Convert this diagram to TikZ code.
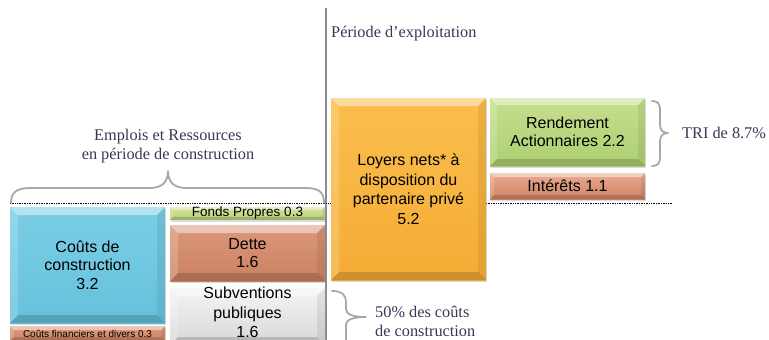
\documentclass[tikz,border=0pt]{standalone}
\usepackage{fontspec}
\setmainfont{Liberation Serif}
\newfontfamily\boxfont{Liberation Sans}
\usetikzlibrary{shadows}
\definecolor{txt}{HTML}{363A55}
\definecolor{bracegray}{HTML}{A8A8A8}
\definecolor{vline}{HTML}{8C8C8C}
\definecolor{blueT}{HTML}{7ACEE5}\definecolor{blueB}{HTML}{66C1DC}
\definecolor{cfT}{HTML}{DE9A7E}\definecolor{cfB}{HTML}{CC8363}
\definecolor{fpT}{HTML}{D2E49C}\definecolor{fpB}{HTML}{B6D27A}
\definecolor{deT}{HTML}{DB9779}\definecolor{deB}{HTML}{CB8263}
\definecolor{suT}{HTML}{F4F4F4}\definecolor{suB}{HTML}{D8D8D8}
\definecolor{loT}{HTML}{FABE4C}\definecolor{loB}{HTML}{F5AC36}
\definecolor{reT}{HTML}{C6DF8E}\definecolor{reB}{HTML}{AECF72}
\definecolor{inT}{HTML}{EBAA90}\definecolor{inB}{HTML}{CC8466}
\newcommand\bevelfaces[1]{%
  \path (path picture bounding box.north west) coordinate (bNW)
        (path picture bounding box.north east) coordinate (bNE)
        (path picture bounding box.south west) coordinate (bSW)
        (path picture bounding box.south east) coordinate (bSE);
  \fill[white,opacity=.45] (bNW) -- (bNE) -- ([xshift=-#1pt,yshift=-#1pt]bNE) -- ([xshift=#1pt,yshift=-#1pt]bNW) -- cycle;
  \fill[black,opacity=.16] (bSW) -- (bSE) -- ([xshift=-#1pt,yshift=#1pt]bSE) -- ([xshift=#1pt,yshift=#1pt]bSW) -- cycle;
  \fill[white,opacity=.18] (bNW) -- ([xshift=#1pt,yshift=-#1pt]bNW) -- ([xshift=#1pt,yshift=#1pt]bSW) -- (bSW) -- cycle;
  \fill[black,opacity=.07] (bNE) -- ([xshift=-#1pt,yshift=-#1pt]bNE) -- ([xshift=-#1pt,yshift=#1pt]bSE) -- (bSE) -- cycle;
}
\tikzset{
  box/.style n args={3}{rectangle, inner sep=0pt, draw=none,
    top color=#1, bottom color=#2,
    drop shadow={opacity=.28, shadow xshift=.8pt, shadow yshift=-1.8pt},
    path picture={\bevelfaces{#3}},
    font=\boxfont\fontsize{16}{18.5}\selectfont, text=black, align=center},
  serif/.style={font=\fontsize{16.3}{19}\selectfont, text=txt, inner sep=0pt, align=left},
  bracel/.style={draw=bracegray, line width=1.8pt, line cap=round, line join=round},
}
\begin{document}
\begin{tikzpicture}[x=1pt,y=-1pt]
\clip (0,0) rectangle (769,340);
\fill[white] (0,0) rectangle (769,340);
% separators
\draw[vline, line width=1.2pt] (326,8) -- (326,340);
\draw[black, line width=.8pt, dash pattern=on .8pt off .9pt] (10,203) -- (672,203);
% titles
\node[serif, anchor=west] (per) at (331,34) {Période d’exploitation};
\node[serif, align=center] (emp) at (168,146.5) {Emplois et Ressources\\en période de construction};
\node[serif, anchor=west] (tri) at (682,133) {TRI de 8.7\%};
\node[serif, anchor=west] (cinq) at (375,321.5) {50\% des coûts\\de construction};
% braces
\draw[bracel] (11,203) .. controls (11,193) and (16,188) .. (30,188) -- (150,188)
  .. controls (162,188) and (168,182) .. (168,171)
  .. controls (168,182) and (174,188) .. (186,188) -- (306,188)
  .. controls (320,188) and (324,193) .. (324,203);
\draw[bracel] (652,101) .. controls (658,101) and (660,104) .. (660,110) -- (660,125)
  .. controls (660,130) and (663,133) .. (668,133)
  .. controls (663,133) and (660,136) .. (660,141) -- (660,157)
  .. controls (660,163) and (658,166) .. (652,166);
\draw[bracel] (332,291) .. controls (342,291) and (346,295) .. (346,302) -- (346,309)
  .. controls (346,314) and (352,317) .. (366,317)
  .. controls (352,317) and (346,320) .. (346,325) -- (346,345);
% construction boxes
\node[box={blueT}{blueB}{8}, minimum width=155pt, minimum height=116pt] (cc) at (87.5,265) {Coûts de\\construction\\3.2};
\node[box={cfT}{cfB}{4}, minimum width=155pt, minimum height=15pt,
      font=\boxfont\fontsize{10}{12}\selectfont] (cf) at (87.5,333.5) {Coûts financiers et divers 0.3};
\node[box={fpT}{fpB}{3}, minimum width=155pt, minimum height=11pt,
      font=\boxfont\fontsize{13.5}{13.5}\selectfont] (fp) at (247.5,213.5) {Fonds Propres 0.3};
\node[box={deT}{deB}{8}, minimum width=155pt, minimum height=56pt] (de) at (247.5,253) {Dette\\1.6};
\node[box={suT}{suB}{8}, minimum width=155pt, minimum height=57pt] (su) at (247.5,316.5) {};
\node[font=\boxfont\fontsize{16}{19.5}\selectfont, align=center, inner sep=0pt] (sutx) at (247.5,312.5) {Subventions\\publiques\\1.6};
% exploitation boxes
\node[box={loT}{loB}{8}, minimum width=155pt, minimum height=182pt,
      font=\boxfont\fontsize{16}{19.5}\selectfont] (lo) at (408.5,189) {Loyers nets* à\\disposition du\\partenaire privé\\5.2};
\node[box={reT}{reB}{7}, minimum width=155pt, minimum height=68pt] (re) at (567.5,132) {Rendement\\Actionnaires 2.2};
\node[box={inT}{inB}{4}, minimum width=155pt, minimum height=26pt] (in) at (567.5,186) {Intérêts 1.1};
\end{tikzpicture}
\end{document}
